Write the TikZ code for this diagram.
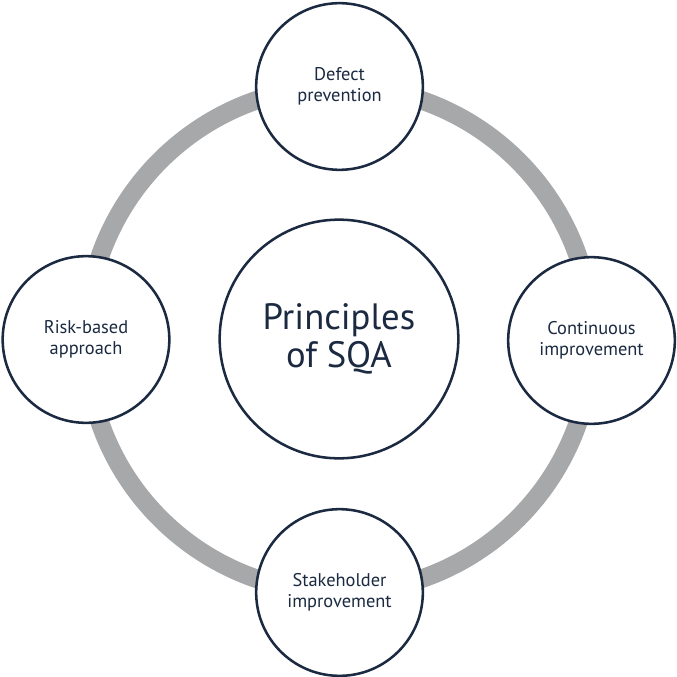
\documentclass[tikz,border=0pt]{standalone}
\usepackage{fontspec}
\setmainfont{PT Sans}
\definecolor{navy}{HTML}{1B2A41}
\definecolor{ringgray}{HTML}{A7A8AA}
\tikzset{
  ring/.style={draw=ringgray, line width=14pt},
  topic/.style={circle, draw=navy, line width=1.9pt, fill=white,
    minimum size=125pt, inner sep=0pt, align=center, text=navy,
    font=\fontsize{13.8}{15.6}\selectfont},
  hub/.style={topic, minimum size=179pt,
    font=\fontsize{27.5}{28.5}\selectfont}
}
\begin{document}
\begin{tikzpicture}[x=0.75pt, y=-0.75pt]
%
\useasboundingbox (0,0) rectangle (676,677);
%
\draw[ring] (339,339.5) circle (253);
%
\node[hub] (sqa) at (339,339) {Principles\\of SQA};
%
\node[topic] (defect) at (339.5,86.5) {Defect\\prevention};
\node[topic] (contin) at (591.5,340.5) {Continuous\\improvement};
\node[topic] (stake) at (339.5,592.5) {Stakeholder\\improvement};
\node[topic] (risk) at (86,339.5) {Risk-based\\approach};
%
\end{tikzpicture}
\end{document}
